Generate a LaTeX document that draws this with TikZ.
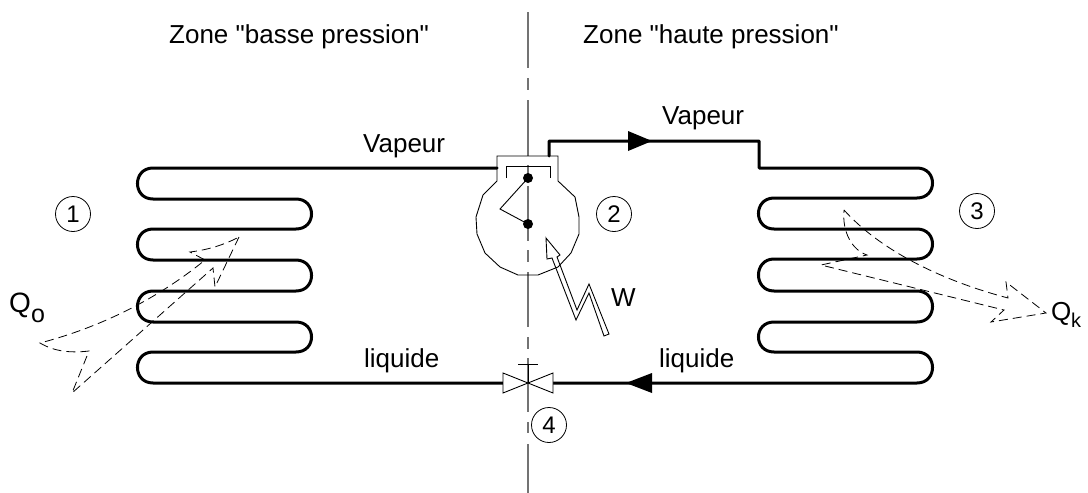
\documentclass[tikz,border=0pt]{standalone}
\usepackage{fontspec}
\setmainfont[Ligatures=TeXOff]{Liberation Sans}
\tikzset{
  pipe/.style={line width=3pt,line join=round,line cap=round,black},
  thin/.style={line width=0.9pt,black,line join=miter},
  axisline/.style={line width=1.4pt,color=black!55},
  heat/.style={line width=0.8pt,black,dash pattern=on 9pt off 5pt},
  lab/.style={inner sep=0pt,font=\fontsize{26}{30}\selectfont,anchor=base west},
  num/.style={draw,circle,line width=0.8pt,minimum size=35pt,inner sep=0pt,font=\fontsize{24}{28}\selectfont},
  dot/.style={circle,fill=black,minimum size=10pt,inner sep=0pt},
  flowhead/.style={fill=black,draw=none},
}
\begin{document}
\begin{tikzpicture}[x=1pt,y=-1pt]
\useasboundingbox (0,0) rectangle (1088,493);
\fill[white] (0,0) rectangle (1088,493);
% axis
\foreach \a/\b in {12/68,78/90,100/156,165/177,186/241,250/262,272/327,337/349,358/412,422/433,444/493}
  \draw[axisline] (528,\a) -- (528,\b);
% labels
\node[lab] (zb) at (169,43) {Zone "basse pression"};
\node[lab] (zh) at (583,43) {Zone "haute pression"};
\node[lab] (v1) at (363,152) {Vapeur};
\node[lab] (v2) at (662,124) {Vapeur};
\node[lab] (l1) at (364,367) {liquide};
\node[lab] (l2) at (659,367) {liquide};
\node[lab] (w) at (611,306) {W};
\node[lab,font=\fontsize{28}{32}\selectfont] (q0) at (9,312) {Q};
\node[lab,font=\fontsize{25}{30}\selectfont] (q0s) at (31,322) {o};
\node[lab,font=\fontsize{26}{30}\selectfont] (qk) at (1051,320) {Q};
\node[lab,font=\fontsize{20}{24}\selectfont] (qks) at (1071,327) {k};
\node[num] (n1) at (73,214) {1};
\node[num] (n2) at (614,214) {2};
\node[num] (n3) at (977,211) {3};
\node[num] (n4) at (549,425) {4};
% connection points
\coordinate (cin) at (497,168);
\coordinate (cout) at (549,156);
\coordinate (vl) at (503,383);
\coordinate (vr) at (553,383);
\coordinate (vc) at (528,383);
% left coil
\draw[pipe] (cin) -- (153,168)
  .. controls (132.3,168) and (132.3,199) .. (153,199) -- (296,199)
  .. controls (316.7,199) and (316.7,229) .. (296,229) -- (153,229)
  .. controls (132.3,229) and (132.3,260) .. (153,260) -- (296,260)
  .. controls (316.7,260) and (316.7,291) .. (296,291) -- (153,291)
  .. controls (132.3,291) and (132.3,322) .. (153,322) -- (296,322)
  .. controls (316.7,322) and (316.7,352) .. (296,352) -- (153,352)
  .. controls (132.3,352) and (132.3,383) .. (153,383) -- (vl);
% right coil
\draw[pipe] (cout) |- (759,141) -- (759,168) -- (917,168)
  .. controls (937.7,168) and (937.7,198) .. (917,198) -- (774,198)
  .. controls (753.3,198) and (753.3,229) .. (774,229) -- (917,229)
  .. controls (937.7,229) and (937.7,259) .. (917,259) -- (774,259)
  .. controls (753.3,259) and (753.3,291) .. (774,291) -- (917,291)
  .. controls (937.7,291) and (937.7,322) .. (917,322) -- (774,322)
  .. controls (753.3,322) and (753.3,352) .. (774,352) -- (917,352)
  .. controls (937.7,352) and (937.7,383) .. (917,383) -- (vr);
% flow arrowheads
\fill[flowhead] (652,141) -- (628,131) -- (628,151) -- cycle;
\fill[flowhead] (626,383) -- (652,373) -- (652,393) -- cycle;
% compressor
\draw[thin] (497,181) -- (497,156) -- (558,156) -- (558,181)
  -- (575,197) -- (579,217) -- (579,234) -- (571,253) -- (558,267) -- (538,275)
  -- (518,275) -- (500,267) -- (485,253) -- (477,234) -- (476,217) -- (483,195) -- cycle;
\draw[thin] (506,178) -- (506,166) -- (550,166) -- (550,178);
\node[dot] (d1) at (528,178) {};
\node[dot] (d2) at (528,224) {};
\coordinate (crank) at (500,209);
\draw[thin] (d1.center) -- (crank) -- (d2.center);
% work arrow
\draw[thin,line join=miter] (546,238) -- (547,259) -- (552,258) -- (576,320) -- (589,293) -- (604,336)
  -- (609,334) -- (589,284) -- (577,310) -- (557,257) -- (560,255) -- cycle;
% valve
\draw[thin,fill=white] (vc) -- (503,373) -- (503,393) -- cycle;
\draw[thin,fill=white] (vc) -- (553,373) -- (553,393) -- cycle;
\coordinate (stem) at (528,364);
\draw[thin] (vc) -- (stem);
\draw[thin] (518,364) -- (538,364);
% heat arrows
\draw[heat] (239,237) -- (215,287) -- (213,268) -- (72,393) -- (89,351)
  .. controls (72,353) and (55,352) .. (40,343)
  .. controls (90,330) and (150,305) .. (205,260) -- (190,252)
  .. controls (207,250) and (224,245) .. (239,237);
\draw[heat] (844,210) .. controls (880,250) and (940,280) .. (1008,298) -- (1006,282) -- (1046,313)
  -- (991,322) -- (1004,310) -- (821,265) -- (867,255)
  .. controls (852,250) and (842,232) .. (844,210);
\end{tikzpicture}
\end{document}
